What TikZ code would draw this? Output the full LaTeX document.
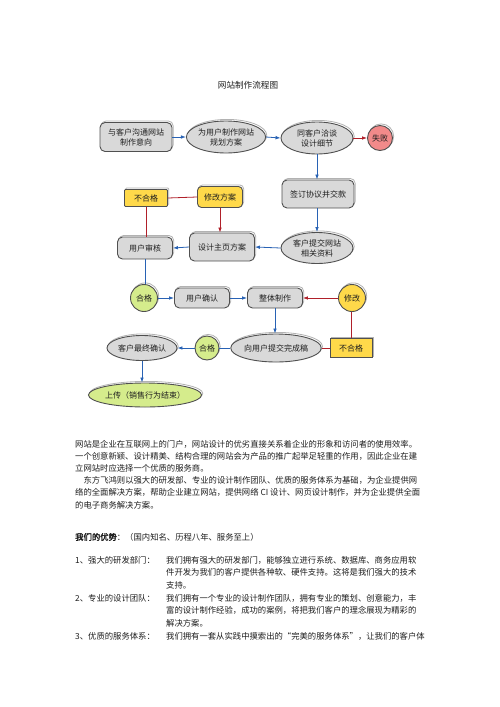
\documentclass[tikz,border=0pt]{standalone}
\usepackage{fontspec}
\setmainfont{Noto Sans CJK SC}
\newfontfamily\cjkb[FakeBold=2.5]{Noto Sans CJK SC}
\usetikzlibrary{shapes.geometric,arrows.meta,shadows}
\definecolor{boxgrey}{RGB}{217,217,217}
\definecolor{edgegrey}{RGB}{80,80,80}
\definecolor{ylw}{RGB}{255,217,74}
\definecolor{grn}{RGB}{213,236,140}
\definecolor{pinkred}{RGB}{242,138,138}
\definecolor{flowblue}{RGB}{40,98,180}
\definecolor{flowred}{RGB}{176,32,42}
\definecolor{inktext}{RGB}{30,30,30}
\tikzset{
  shad/.style={copy shadow={shadow xshift=1.2pt, shadow yshift=1.6pt, fill=white, draw=black!30, line width=0.8pt}},
  base/.style={shad, draw=edgegrey, line width=0.9pt, align=center, inner sep=0pt,
    font=\fontsize{8}{10}\selectfont, text=inktext},
  gbox/.style={base, rectangle, rounded corners=5pt, fill=boxgrey},
  gell/.style={base, ellipse, fill=boxgrey},
  ybox/.style={base, rectangle, fill=ylw},
  gcirc/.style={base, circle, fill=grn},
  ycirc/.style={base, circle, fill=ylw},
  rcirc/.style={base, circle, fill=pinkred},
  bar/.style={draw=flowblue, line width=0.8pt, -{Latex[length=5pt,width=3.6pt]}},
  bln/.style={draw=flowblue, line width=0.8pt},
  rar/.style={draw=flowred, line width=0.8pt, -{Latex[length=5pt,width=3.6pt]}},
  rln/.style={draw=flowred, line width=0.8pt},
  txt/.style={anchor=west, inner sep=0pt, font=\fontsize{8.34}{12}\selectfont, text=inktext}
}
\begin{document}
\begin{tikzpicture}[x=1pt,y=-1pt]
\useasboundingbox (0,0) rectangle (500,707);
\fill[white] (0,0) rectangle (500,707);

\node[inner sep=0pt, font=\fontsize{8.6}{10}\selectfont, text=inktext] (title) at (248,85) {网站制作流程图};

% row 1
\node[gbox, minimum width=72pt, minimum height=29pt] (n1) at (136,137) {与客户沟通网站\\制作意向};
\node[gell, minimum width=76pt, minimum height=32pt] (n2) at (226,137) {为用户制作网站\\规划方案};
\node[gell, minimum width=72pt, minimum height=32pt] (n3) at (317,138) {同客户洽谈\\设计细节};
\node[rcirc, minimum size=25pt] (n4) at (380,138) {失败};

% row 2
\node[gbox, minimum width=72pt, minimum height=28pt] (n5) at (318,194) {签订协议并交款};
\node[ybox, rounded corners=4pt, minimum width=45pt, minimum height=21pt] (n6) at (220,197) {修改方案};
\node[ybox, rounded corners=1pt, minimum width=43pt, minimum height=17pt] (n7) at (146,198) {不合格};

% row 3
\node[gell, minimum width=72pt, minimum height=31pt] (n8) at (317,248) {客户提交网站\\相关资料};
\node[gbox, minimum width=65pt, minimum height=28pt] (n9) at (222,247) {设计主页方案};
\node[gbox, minimum width=55pt, minimum height=22pt] (n10) at (145,248) {用户审核};

% row 4
\node[gcirc, minimum size=27pt] (n11) at (144,298) {合格};
\node[gbox, minimum width=55pt, minimum height=20pt] (n12) at (202,298) {用户确认};
\node[gbox, minimum width=55pt, minimum height=20pt] (n13) at (275,298) {整体制作};
\node[ycirc, minimum size=27pt] (n14) at (352,298) {修改};

% row 5
\node[ybox, minimum width=42pt, minimum height=19pt] (n15) at (351,348) {不合格};
\node[gell, minimum width=80pt, minimum height=28pt] (n16) at (276,348) {向用户提交完成稿};
\node[gcirc, minimum size=24pt] (n17) at (207,348) {合格};
\node[gell, minimum width=70pt, minimum height=25pt] (n18) at (142,348) {客户最终确认};

% row 6
\node[gell, fill=grn, minimum width=92pt, minimum height=24pt] (n19) at (145,395) {上传（销售行为结束）};

% connectors
\draw[bar] (n1.east) -- (n2.west);
\draw[bar] (n2.east) -- (n3.west);
\draw[rar] (n3.east) -- (n4.west);
\draw[bar] (n3.south) -- (n3.south |- n5.north);
\draw[bar] (n5.south -| n8.south) -- (n8.north);
\draw[bar] (n8.west) -- (n9.east);
\draw[bar] (n9.west) -- (n10.east);
\draw[rln] (n10.north -| n7.south) -- (n7.south);
\draw[rln] (n7.east) -- (n6.west);
\draw[rar] (n6.south) -- (n6.south |- n9.north);
\draw[bln] (n10.south) -- (n10.south |- n11.north);
\draw[bar] (n11.east) -- (n12.west);
\draw[bar] (n12.east) -- (n13.west);
\draw[rar] (n14.west) -- (n13.east);
\draw[rln] (n15.north) -- (n15.north |- n14.south);
\draw[rln] (n16.east) -- (n15.west);
\draw[bar] (n13.south) -- (n13.south |- n16.north);
\draw[bln] (n16.west) -- (n17.east);
\draw[bar] (n17.west) -- (n18.east);
\draw[bar] (n18.south) -- (n18.south |- n19.north);

% body text
\node[txt] (p1) at (75,444) {网站是企业在互联网上的门户，网站设计的优劣直接关系着企业的形象和访问者的使用效率。};
\node[txt] (p2) at (75,456.2) {一个创意新颖、设计精美、结构合理的网站会为产品的推广起举足轻重的作用，因此企业在建};
\node[txt] (p3) at (75,468.4) {立网站时应选择一个优质的服务商。};
\node[txt] (p4) at (83.4,480.6) {东方飞鸿则以强大的研发部、专业的设计制作团队、优质的服务体系为基础，为企业提供网};
\node[txt] (p5) at (75,492.8) {络的全面解决方案，帮助企业建立网站，提供网络 CI 设计、网页设计制作，并为企业提供全面};
\node[txt] (p6) at (75,505) {的电子商务解决方案。};

\node[txt] (adv) at (75,537) {{\cjkb 我们的优势}：（国内知名、历程八年、服务至上）};

\node[txt] (l1) at (75,560) {1、强大的研发部门：};
\node[txt] (r1a) at (166,560) {我们拥有强大的研发部门，能够独立进行系统、数据库、商务应用软};
\node[txt] (r1b) at (166,572.7) {件开发为我们的客户提供各种软、硬件支持。这将是我们强大的技术};
\node[txt] (r1c) at (166,585.4) {支持。};
\node[txt] (l2) at (75,598.1) {2、专业的设计团队：};
\node[txt] (r2a) at (166,598.1) {我们拥有一个专业的设计制作团队，拥有专业的策划、创意能力，丰};
\node[txt] (r2b) at (166,610.8) {富的设计制作经验，成功的案例，将把我们客户的理念展现为精彩的};
\node[txt] (r2c) at (166,623.5) {解决方案。};
\node[txt] (l3) at (75,636.2) {3、优质的服务体系：};
\node[txt] (r3a) at (166,636.2) {我们拥有一套从实践中摸索出的“完美的服务体系”，让我们的客户体};
\end{tikzpicture}
\end{document}
